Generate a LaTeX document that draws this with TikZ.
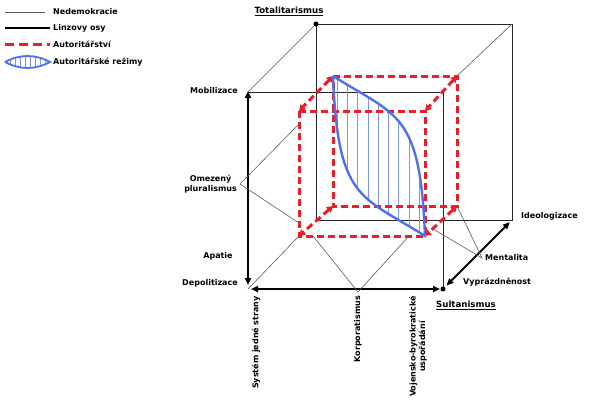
\documentclass[tikz,border=0pt]{standalone}
\usepackage{fontspec}
\setmainfont{DejaVu Sans}
\usepackage{tikz}
\usetikzlibrary{arrows.meta}
\definecolor{cmodra}{HTML}{4F70EC}
\definecolor{ccervena}{HTML}{EE1C25}
\definecolor{cseda}{HTML}{5A5A5A}

\begin{document}
\begin{tikzpicture}[x=1pt,y=-1pt,
  every node/.style={font=\fontsize{8}{9.6}\selectfont\bfseries, inner sep=0pt},
  velky/.style={font=\fontsize{8.6}{10}\selectfont\bfseries},
  hrana/.style={line width=0.8pt, black!85},
  vodic/.style={line width=0.6pt, cseda},
  osa/.style={line width=1.8pt, black, {Triangle[length=7pt,width=6pt]}-{Triangle[length=7pt,width=6pt]}},
  autor/.style={line width=3pt, ccervena, dash pattern=on 7pt off 4pt},
  autorosa/.style={autor, {Triangle[length=6pt,width=7pt]}-{Triangle[length=6pt,width=7pt]}},
  rezim/.style={line width=2.4pt, cmodra},
  srafa/.style={line width=0.8pt, cmodra!75},
  tecka/.style={circle, fill=black, minimum size=5pt}]

  \useasboundingbox (0,0) rectangle (598,405);

  % legenda
  \coordinate (lg1a) at (5,12);  \coordinate (lg1b) at (45,12);
  \coordinate (lg2a) at (5,28);  \coordinate (lg2b) at (50,28);
  \coordinate (lg3a) at (5,44);  \coordinate (lg3b) at (50,44);
  \coordinate (lg4a) at (5,62);  \coordinate (lg4b) at (50,62);
  \node[anchor=west] (leg1) at (53,12) {Nedemokracie};
  \node[anchor=west] (leg2) at (53,28) {Linzovy osy};
  \node[anchor=west] (leg3) at (53,44) {Autoritářství};
  \node[anchor=west] (leg4) at (53,62) {Autoritářské režimy};
  \draw[vodic] (lg1a) -- (lg1b);
  \draw[line width=1.8pt] (lg2a) -- (lg2b);
  \draw[autor, dash pattern=on 9pt off 5pt] (lg3a) -- (lg3b);
  \begin{scope}
    \clip (lg4a) .. controls (20,54) and (35,54) .. (lg4b) .. controls (35,70) and (20,70) .. (lg4a);
    \foreach \x in {10,15,...,45} \draw[srafa] (\x,50) -- (\x,74);
  \end{scope}
  \draw[rezim, line width=1.8pt] (lg4a) .. controls (20,54) and (35,54) .. (lg4b) .. controls (35,70) and (20,70) .. (lg4a);

  % krychle nedemokracii
  \coordinate (P1) at (248,92);  \coordinate (P2) at (443,92);
  \coordinate (P3) at (443,289); \coordinate (P4) at (248,289);
  \coordinate (Z1) at (316,24);  \coordinate (Z2) at (512,24);
  \coordinate (Z3) at (512,220); \coordinate (Z4) at (316,220);
  \draw[hrana] (Z1) -- (Z2) -- (Z3) -- (Z4) -- cycle;
  \draw[hrana] (P1) -- (P2) -- (P3);
  \draw[vodic] (Z1) -- (P1);
  \draw[osa, shorten <=-1pt, shorten >=4pt] (P1) -- (P4);
  \draw[osa, shorten <=3pt, shorten >=3pt] (P4) -- (P3);
  \draw[osa, shorten <=3pt, shorten >=5pt] (Z3) -- (P3);
  \node[tecka] (tot0) at (Z1) {};
  \node[tecka] (sul0) at (P3) {};

  % autoritarstvi
  \coordinate (R1) at (333,76);  \coordinate (R2) at (457,76);
  \coordinate (R3) at (457,206); \coordinate (R4) at (333,206);
  \coordinate (F1) at (299,111); \coordinate (F2) at (425,111);
  \coordinate (F3) at (425,236); \coordinate (F4) at (299,236);
  \draw[vodic] (Z2) -- (R2);
  \draw[vodic] (F4) -- (P4);

  \begin{scope}
    \clip (R1) .. controls (338,200) and (360,195) .. (F3) .. controls (420,112) and (398,117) .. (R1);
    \foreach \x in {337,347.3,...,420} \draw[srafa] (\x,70) -- (\x,240);
  \end{scope}

  \draw[autor] (R1) -- (R2) -- (R3) -- (R4) -- cycle;
  \draw[autor] (F1) -- (F2) -- (F3) -- (F4) -- cycle;
  \foreach \i in {1,...,4} \draw[autorosa] (R\i) -- (F\i);

  \draw[rezim] (R1) .. controls (338,200) and (360,195) .. (F3) .. controls (420,112) and (398,117) .. (R1);

  % popisky
  \node[velky] (tot) at (289,11) {\underline{Totalitarismus}};
  \node[velky] (sult) at (466,305) {\underline{Sultanismus}};
  \node[anchor=east] (mob) at (238,91) {Mobilizace};
  \node[anchor=east, align=center] (omez) at (237,184) {Omezený\\pluralismus};
  \node (apat) at (218,256) {Apatie};
  \node[anchor=east] (depo) at (238,283) {Depolitizace};
  \node[rotate=90, anchor=east] (sys) at (256,296) {Systém jedné strany};
  \node[rotate=90, anchor=east] (korp) at (358,296) {Korporatismus};
  \node[rotate=90, anchor=east, align=center] (voj) at (418,296) {Vojensko-byrokratické\\uspořádání};
  \node[anchor=west] (vypr) at (463,282) {Vyprázdněnost};
  \node[anchor=west] (ment) at (485,258) {Mentalita};
  \node[anchor=west] (ideo) at (521,216) {Ideologizace};

  \coordinate (OmA) at (299,124); \coordinate (OmB) at (299,223);
  \coordinate (KoA) at (313,236); \coordinate (KoB) at (409,236);
  \coordinate (MeA) at (433,229);
  \draw[vodic] (OmA) -- ([xshift=3pt]omez.east) -- (OmB);
  \draw[vodic] (KoA) -- ([yshift=4pt]korp.east) -- (KoB);
  \draw[vodic] (R3) -- ([xshift=-3pt]ment.west) -- (MeA);
\end{tikzpicture}
\end{document}
